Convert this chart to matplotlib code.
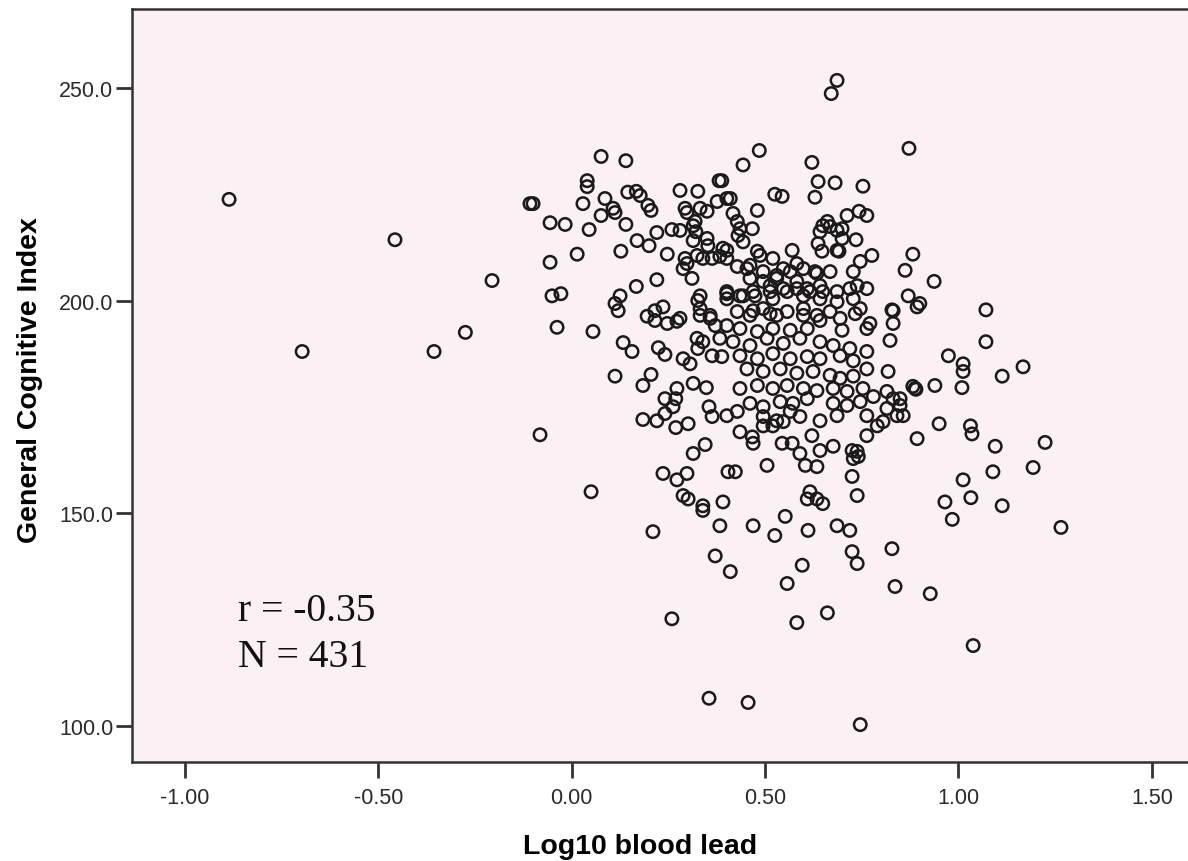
import matplotlib
matplotlib.use("Agg")
import matplotlib.pyplot as plt
import numpy as np

# Log10 blood lead (x) vs General Cognitive Index (y)

# sparse points on the left
lead_left = [-0.886, -0.457, -0.206, -0.108, -0.275, -0.356, -0.697, -0.082]
gci_left = [223.9, 214.4, 204.8, 222.9, 192.6, 188.1, 188.1, 168.5]

# upper-left cluster
lead_ul = [0.076, 0.140, 0.040, 0.040, -0.100, 0.029, 0.086, 0.107, 0.112, 0.145,
           0.167, 0.177, 0.197, 0.205, 0.280, 0.326, 0.381, 0.376, 0.401, 0.293,
           0.298, 0.332, 0.350, -0.056, -0.017, 0.045, 0.076, 0.140, 0.220, 0.169,
           0.200, 0.259, 0.280, 0.314, 0.321, 0.314, 0.350, 0.352, 0.014, -0.056,
           0.127, 0.247, 0.293, 0.298, 0.288, 0.324, 0.339, 0.363, 0.383, 0.401,
           0.311, 0.220, 0.167, -0.051, -0.028, 0.125, 0.332, 0.401]
gci_ul = [234.0, 233.0, 228.3, 226.9, 222.9, 222.9, 224.1, 221.8, 220.8, 225.6,
          225.8, 224.8, 222.5, 221.3, 226.0, 225.8, 228.3, 223.4, 224.1, 221.8,
          220.8, 221.8, 221.1, 218.4, 218.0, 216.8, 220.1, 218.0, 216.1, 214.2,
          213.0, 216.8, 216.6, 217.7, 216.3, 214.2, 214.7, 213.0, 211.0, 209.1,
          211.7, 211.0, 210.0, 208.8, 207.6, 210.7, 210.0, 210.0, 210.5, 211.9,
          205.3, 205.0, 203.4, 201.2, 201.7, 201.2, 201.2, 201.7]

# upper-right cluster
lead_ur = [0.686, 0.671, 0.872, 0.485, 0.443, 0.621, 0.388, 0.637, 0.681, 0.753,
           0.525, 0.544, 0.629, 0.410, 0.480, 0.417, 0.428, 0.435, 0.430, 0.467,
           0.661, 0.642, 0.668, 0.712, 0.743, 0.763, 0.699, 0.699, 0.735, 0.637,
           0.647, 0.691, 0.776, 0.882, 0.862, 0.570, 0.520, 0.391, 0.401, 0.428,
           0.487, 0.453, 0.547, 0.582, 0.629, 0.746, 0.728, 0.461, 0.495, 0.530,
           0.582, 0.609, 0.642, 0.738, 0.763, 0.401, 0.435, 0.469, 0.513, 0.557,
           0.599, 0.686, 0.719, 0.870]
gci_ur = [251.9, 248.8, 235.9, 235.4, 232.0, 232.6, 228.3, 228.1, 227.8, 227.0,
          225.1, 224.6, 224.4, 224.1, 221.3, 220.6, 218.7, 217.0, 215.4, 217.0,
          218.7, 216.3, 217.5, 220.1, 221.1, 220.1, 217.0, 214.7, 214.4, 213.5,
          211.7, 211.7, 210.7, 211.0, 207.2, 211.9, 210.0, 212.4, 210.0, 208.1,
          210.7, 207.6, 207.6, 208.8, 206.9, 209.3, 206.9, 205.3, 204.6, 205.3,
          204.6, 202.9, 203.6, 203.6, 202.9, 202.2, 201.2, 202.2, 202.2, 202.2,
          201.2, 202.2, 202.9, 201.2]

# lower-left cluster
lead_ll = [0.112, 0.120, -0.038, 0.055, 0.133, 0.156, 0.195, 0.215, 0.236, 0.215,
           0.247, 0.272, 0.280, 0.224, 0.241, 0.112, 0.205, 0.184, 0.288, 0.306,
           0.326, 0.332, 0.332, 0.358, 0.371, 0.383, 0.324, 0.326, 0.339, 0.363,
           0.388, 0.401, 0.314, 0.348, 0.272, 0.241, 0.269, 0.262, 0.355, 0.363,
           0.184, 0.220, 0.241, 0.269, 0.301, 0.345, 0.314, 0.236, 0.272, 0.298,
           0.050, 0.288, 0.301, 0.339, 0.391, 0.404]
gci_ll = [199.4, 197.7, 193.8, 192.8, 190.2, 188.1, 196.4, 197.7, 198.6, 195.4,
          194.7, 195.2, 195.9, 189.0, 187.4, 182.3, 182.7, 180.1, 186.4, 185.2,
          200.1, 198.2, 196.6, 196.6, 194.2, 191.2, 191.2, 188.8, 190.4, 187.1,
          186.9, 200.5, 180.6, 179.6, 179.4, 177.0, 177.0, 175.1, 175.1, 172.8,
          172.1, 171.8, 173.5, 170.2, 171.1, 166.2, 164.1, 159.4, 157.9, 159.4,
          155.1, 154.2, 153.4, 151.8, 152.7, 159.8]

# dense centre
lead_mid = [0.474, 0.520, 0.642, 0.686, 0.728, 0.746, 0.831, 0.831, 0.893, 0.428,
            0.469, 0.513, 0.557, 0.599, 0.642, 0.694, 0.733, 0.771, 0.763, 0.401,
            0.435, 0.480, 0.520, 0.565, 0.609, 0.699, 0.823, 0.417, 0.461, 0.505,
            0.547, 0.590, 0.642, 0.676, 0.719, 0.763, 0.435, 0.480, 0.520, 0.565,
            0.609, 0.642, 0.694, 0.728, 0.763, 0.818, 0.882, 0.453, 0.495, 0.539,
            0.582, 0.624, 0.668, 0.694, 0.728, 0.435, 0.480, 0.520, 0.557, 0.599,
            0.634, 0.676, 0.712, 0.753, 0.780, 0.815, 0.831, 0.849, 0.815, 0.841,
            0.857, 0.805, 0.790, 0.428, 0.461, 0.495, 0.539, 0.572, 0.609, 0.676,
            0.712, 0.746, 0.401, 0.495, 0.530, 0.565, 0.590, 0.642, 0.686, 0.763,
            0.495, 0.520, 0.547, 0.435, 0.467, 0.469, 0.621, 0.763, 0.544, 0.570,
            0.642, 0.676, 0.725, 0.738, 0.741, 0.728, 0.590, 0.604, 0.634, 0.505,
            0.423, 0.725, 0.893, 0.616, 0.634, 0.609, 0.649, 0.738]
gci_mid = [201.2, 200.5, 200.5, 199.8, 200.5, 198.2, 197.7, 194.7, 198.6, 197.5,
           197.7, 197.0, 197.5, 196.6, 195.4, 195.9, 197.0, 194.7, 193.5, 194.2,
           193.5, 192.8, 193.5, 193.1, 193.5, 193.1, 190.7, 190.4, 189.5, 191.2,
           190.0, 191.2, 190.4, 189.5, 188.8, 188.1, 187.1, 186.4, 187.6, 186.4,
           186.9, 186.4, 187.1, 185.9, 184.0, 183.4, 179.9, 184.0, 183.4, 184.0,
           183.0, 183.4, 182.5, 181.8, 182.3, 179.4, 180.1, 179.4, 180.1, 179.4,
           178.9, 179.4, 178.7, 179.4, 177.5, 178.7, 177.0, 175.4, 174.7, 173.0,
           173.0, 171.6, 170.6, 174.0, 175.9, 175.1, 176.3, 175.9, 177.0, 175.9,
           175.4, 176.3, 173.0, 172.8, 171.8, 174.0, 172.8, 171.8, 173.0, 173.0,
           170.6, 170.6, 171.6, 169.2, 168.0, 166.5, 168.3, 168.3, 166.5, 166.5,
           164.8, 165.8, 164.8, 164.6, 163.4, 162.9, 164.1, 161.3, 161.0, 161.3,
           159.8, 158.7, 167.6, 155.1, 153.4, 153.4, 152.3, 154.2]

# low scores
lead_low = [0.339, 0.210, 0.383, 0.469, 0.525, 0.552, 0.611, 0.686, 0.719, 0.371,
            0.410, 0.557, 0.596, 0.725, 0.738, 0.828, 0.836, 0.927, 0.259, 0.582,
            0.661, 0.355, 0.456, 0.746]
gci_low = [150.7, 145.7, 147.1, 147.1, 144.8, 149.3, 146.0, 147.1, 146.0, 140.0,
           136.3, 133.5, 137.8, 141.0, 138.2, 141.7, 132.8, 131.1, 125.2, 124.3,
           126.6, 106.5, 105.5, 100.3]

# high lead, right side
lead_right = [1.071, 1.071, 0.974, 1.012, 1.012, 1.009, 1.113, 1.167, 0.888, 0.890,
              0.939, 0.849, 0.950, 1.031, 1.035, 1.095, 1.224, 1.089, 1.193, 1.012,
              0.965, 1.032, 0.984, 1.113, 1.265, 1.038, 0.937, 0.900, 0.828]
gci_right = [197.9, 190.4, 187.1, 185.2, 183.4, 179.6, 182.3, 184.5, 179.4, 179.2,
             180.1, 177.0, 171.1, 170.6, 168.7, 165.8, 166.7, 159.8, 160.8, 157.9,
             152.7, 153.7, 148.6, 151.8, 146.7, 118.9, 204.6, 199.4, 197.9]

# extra overlapping points in the core
lead_core = [0.319, 0.443, 0.480, 0.649, 0.686, 0.686, 0.461, 0.495, 0.530, 0.565,
             0.599, 0.634, 0.668, 0.443, 0.513, 0.547, 0.582, 0.616, 0.649, 0.358,
             0.461, 0.495, 0.530, 0.599, 0.634, 0.668]
gci_core = [218.7, 213.9, 211.7, 217.7, 216.6, 211.9, 208.4, 206.9, 206.0, 206.9,
            207.6, 206.5, 206.9, 201.2, 203.6, 202.9, 202.9, 202.2, 202.2, 195.9,
            196.6, 198.2, 196.6, 198.2, 196.6, 197.5]

x_ticks = [-1.0, -0.5, 0.0, 0.5, 1.0, 1.5]
y_ticks = [100, 150, 200, 250]
stat_lines = ["r = -0.35", "N = 431"]

log_lead = np.concatenate([lead_left, lead_ul, lead_ur, lead_ll, lead_mid,
                           lead_low, lead_right, lead_core])
gci = np.concatenate([gci_left, gci_ul, gci_ur, gci_ll, gci_mid,
                      gci_low, gci_right, gci_core])

plt.rcParams['font.family'] = ['Liberation Sans', 'DejaVu Sans']

W, H = 1188, 862
fig = plt.figure(figsize=(W / 100, H / 100), dpi=100)
fig.patch.set_facecolor('white')
# plot frame runs past the right edge of the picture, as in the original
ax = fig.add_axes([132 / W, (H - 763) / H, 1062 / W, 753 / H])
ax.set_facecolor('#fbf0f3')

ax.scatter(log_lead, gci, s=80, facecolors='none', edgecolors='#1a1a1a',
           linewidths=1.8, zorder=3)

ax.set_xlim(-1.137, 1.609)
ax.set_ylim(91.5, 268.7)
ax.set_xticks(x_ticks)
ax.set_xticklabels([f"{t:.2f}" for t in x_ticks])
ax.set_yticks(y_ticks)
ax.set_yticklabels([f"{t:.1f}" for t in y_ticks])
ax.tick_params(direction='out', length=11.5, width=2.0, color='#333333',
               labelsize=15.5, labelcolor='#2a2a2a')
ax.tick_params(axis='x', pad=6.5)
ax.tick_params(axis='y', pad=2)

for side in ('top', 'right', 'left', 'bottom'):
    ax.spines[side].set_color('#333333')
    ax.spines[side].set_linewidth(1.8)

ax.set_xlabel("Log10 blood lead", fontsize=20.5, fontweight='bold', color='#000000')
ax.set_ylabel("General Cognitive Index", fontsize=20.5, fontweight='bold', color='#000000')
ax.xaxis.set_label_coords(0.478, -0.094)
ax.yaxis.set_label_coords(-0.084, 0.509)

serif = ['Liberation Serif', 'DejaVu Serif']
ax.text(-0.863, 124.8, stat_lines[0], fontsize=28.5, family=serif,
        va='baseline', ha='left', color='#111111')
ax.text(-0.863, 114.2, stat_lines[1], fontsize=28.5, family=serif,
        va='baseline', ha='left', color='#111111')

fig.savefig("out.png", dpi=100)
